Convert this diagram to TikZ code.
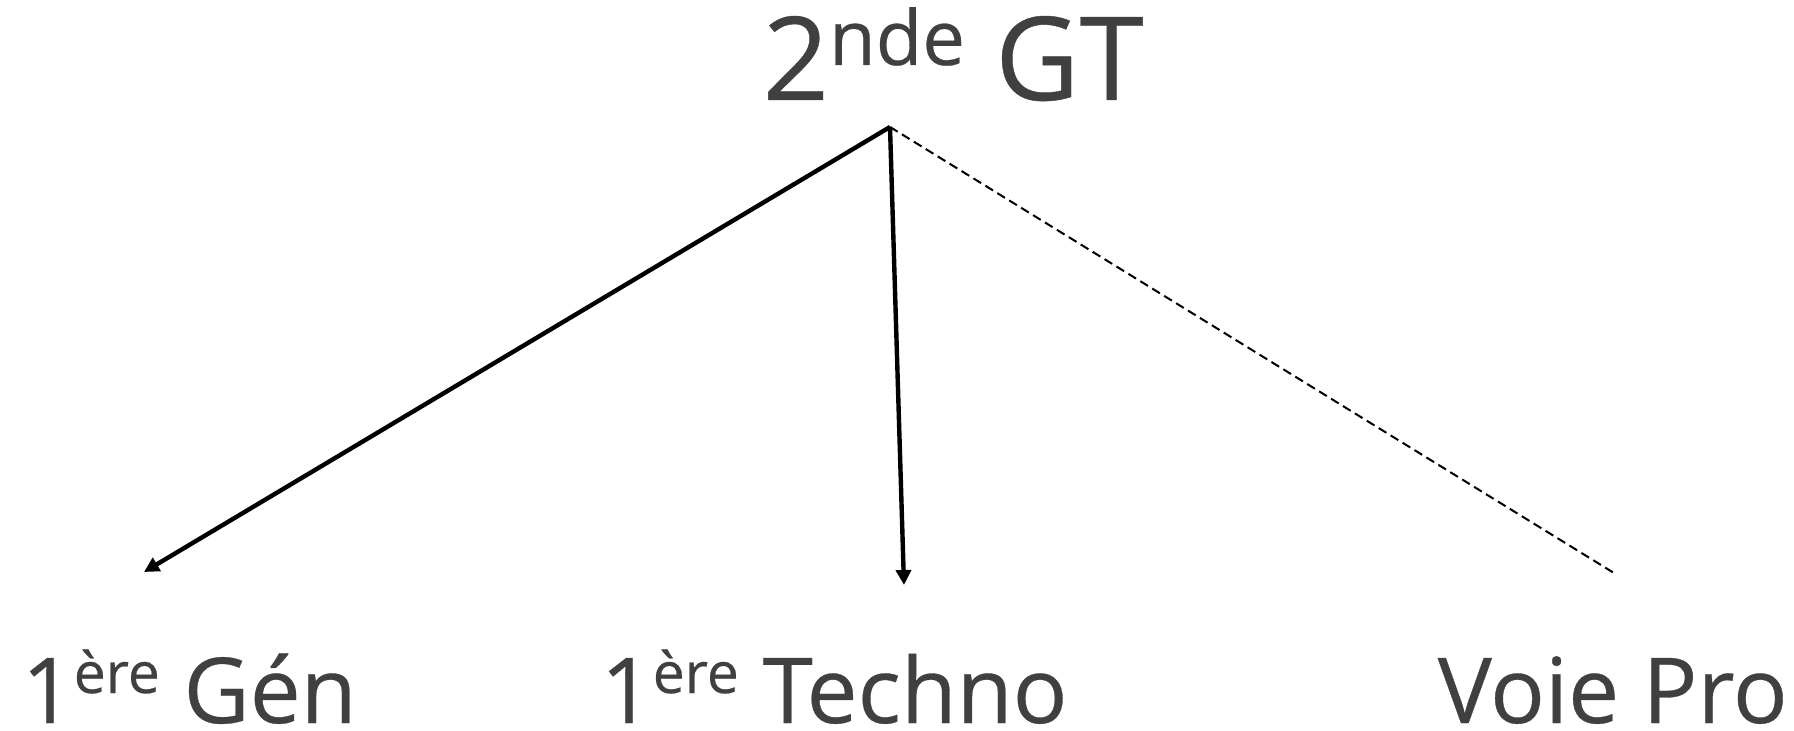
\documentclass[tikz,border=0pt]{standalone}
\usepackage{fontspec}
\setmainfont{Open Sans}
\newfontfamily\labelfont{Open Sans}[FakeBold=0.35]
\usetikzlibrary{arrows.meta}

\definecolor{txtgray}{RGB}{64,64,64}
\newcommand{\ordsup}[3]{\raisebox{#2}{\fontsize{#1}{#1}\selectfont #3}}
\tikzset{every picture/.style={line width=0.75pt}}

\begin{document}
\begin{tikzpicture}[x=0.5pt,y=0.5pt,yscale=-1,xscale=1,
        stage/.style={anchor=base west,inner sep=0pt,text=txtgray,text depth=0pt,font=\labelfont},
        link/.style={line width=2.2pt,-{Triangle[length=7.5pt,width=7.5pt]}}]
        \useasboundingbox (0,0) rectangle (1794,731);

        % Text Node
        \node (second) at (762,100) [stage] {\fontsize{58}{60}\selectfont 2\ordsup{38}{17.5pt}{nde} GT};
        % Text Node
        \node (gen) at (21,723) [stage] {\fontsize{45.5}{48}\selectfont 1\ordsup{28.5}{15pt}{ère} Gén};
        % Text Node
        \node (techno) at (600,723) [stage] {\fontsize{45.5}{48}\selectfont 1\ordsup{28.5}{15pt}{ère} Techno};
        % Text Node
        \node (pro) at (1437,723) [stage] {\fontsize{45.5}{48}\selectfont Voie Pro};

        \coordinate (fork) at (890,127);
        \coordinate (gentip) at (144,572);
        \coordinate (technotip) at (904,585);
        \coordinate (protip) at (1614,573);

        %Straight Lines
        \draw [link] (fork) -- (gentip);
        %Straight Lines
        \draw [link] (fork) -- (technotip);
        %Straight Lines
        \draw [line width=1pt,dashed,dash pattern=on 4.5pt off 2.5pt] (fork) -- (protip);

\end{tikzpicture}
\end{document}
